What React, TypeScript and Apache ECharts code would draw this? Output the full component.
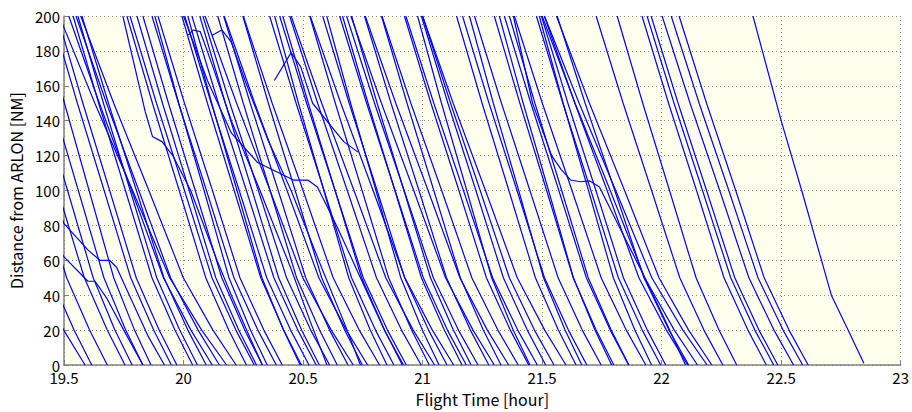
import React, { useEffect, useRef } from "react";
import * as echarts from "echarts";

// distance levels (NM) at which each regular track's time (hour) is read
const distanceLevels = [200, 150, 100, 50, 20, 0];

// tracks already inside 200 NM at 19.5 h
const leftEdgeFlights: number[][] = [
  [19.48, 19.629, 19.787, 19.942, 20.076, 20.18],
  [19.472, 19.579, 19.691, 19.802, 19.898, 19.972],
  [19.449, 19.556, 19.668, 19.779, 19.875, 19.949],
  [19.404, 19.502, 19.605, 19.708, 19.795, 19.864],
  [19.35, 19.452, 19.56, 19.667, 19.758, 19.83],
  [19.305, 19.407, 19.515, 19.622, 19.713, 19.785],
  [19.255, 19.362, 19.474, 19.585, 19.681, 19.755],
  [19.181, 19.288, 19.4, 19.511, 19.607, 19.681],
  [19.116, 19.223, 19.335, 19.446, 19.542, 19.616],
  [18.988, 19.116, 19.251, 19.384, 19.499, 19.588],
];

const earlyFlights: number[][] = [
  [19.52, 19.648, 19.783, 19.916, 20.031, 20.12],
  [19.538, 19.645, 19.757, 19.868, 19.964, 20.038],
  [19.55, 19.678, 19.813, 19.946, 20.061, 20.15],
  [19.558, 19.665, 19.777, 19.888, 19.984, 20.058],
  [19.57, 19.708, 19.855, 19.999, 20.123, 20.22],
  [19.575, 19.686, 19.803, 19.918, 20.018, 20.095],
  [19.763, 19.87, 19.982, 20.093, 20.189, 20.263],
  [19.776, 19.887, 20.004, 20.119, 20.219, 20.296],
  [19.805, 19.912, 20.024, 20.135, 20.231, 20.305],
  [19.83, 19.937, 20.049, 20.16, 20.256, 20.33],
  [19.868, 19.979, 20.096, 20.211, 20.311, 20.388],
  [19.88, 19.98, 20.086, 20.19, 20.28, 20.35],
  [19.893, 20.004, 20.121, 20.236, 20.336, 20.413],
  [19.993, 20.1, 20.212, 20.323, 20.419, 20.493],
  [20.005, 20.116, 20.233, 20.348, 20.448, 20.525],
  [20.018, 20.118, 20.224, 20.328, 20.418, 20.488],
  [20.035, 20.146, 20.263, 20.378, 20.478, 20.555],
  [20.068, 20.175, 20.287, 20.398, 20.494, 20.568],
  [20.081, 20.194, 20.313, 20.431, 20.532, 20.611],
  [20.09, 20.222, 20.362, 20.499, 20.618, 20.71],
  [20.143, 20.25, 20.362, 20.473, 20.569, 20.643],
  [20.168, 20.279, 20.396, 20.511, 20.611, 20.688],
  [20.17, 20.298, 20.433, 20.566, 20.681, 20.77],
  [20.248, 20.355, 20.467, 20.578, 20.674, 20.748],
  [20.25, 20.371, 20.5, 20.626, 20.735, 20.82],
];

const midFlights: number[][] = [
  [20.36, 20.471, 20.588, 20.703, 20.803, 20.88],
  [20.381, 20.481, 20.587, 20.691, 20.781, 20.851],
  [20.402, 20.515, 20.634, 20.752, 20.853, 20.932],
  [20.415, 20.522, 20.634, 20.745, 20.841, 20.915],
  [20.444, 20.561, 20.685, 20.807, 20.912, 20.994],
  [20.45, 20.578, 20.713, 20.846, 20.961, 21.05],
  [20.528, 20.635, 20.747, 20.858, 20.954, 21.028],
  [20.53, 20.658, 20.793, 20.926, 21.041, 21.13],
  [20.582, 20.693, 20.81, 20.925, 21.025, 21.102],
  [20.599, 20.699, 20.805, 20.909, 20.999, 21.069],
  [20.653, 20.766, 20.885, 21.003, 21.104, 21.183],
  [20.665, 20.772, 20.884, 20.995, 21.091, 21.165],
  [20.682, 20.799, 20.923, 21.045, 21.15, 21.232],
  [20.7, 20.828, 20.963, 21.096, 21.211, 21.3],
  [20.703, 20.81, 20.922, 21.033, 21.129, 21.203],
  [20.757, 20.868, 20.985, 21.1, 21.2, 21.277],
  [20.76, 20.888, 21.023, 21.156, 21.271, 21.36],
  [20.828, 20.935, 21.047, 21.158, 21.254, 21.328],
  [20.83, 20.951, 21.08, 21.206, 21.315, 21.4],
  [20.924, 21.035, 21.152, 21.267, 21.367, 21.444],
  [20.93, 21.047, 21.171, 21.293, 21.398, 21.48],
  [20.979, 21.079, 21.185, 21.289, 21.379, 21.449],
  [20.995, 21.106, 21.223, 21.338, 21.438, 21.515],
  [21.0, 21.117, 21.241, 21.363, 21.468, 21.55],
  [21.0, 21.128, 21.263, 21.396, 21.511, 21.6],
];

const lateFlights: number[][] = [
  [21.142, 21.249, 21.361, 21.472, 21.568, 21.642],
  [21.167, 21.278, 21.395, 21.51, 21.61, 21.687],
  [21.196, 21.296, 21.402, 21.506, 21.596, 21.666],
  [21.217, 21.33, 21.449, 21.567, 21.668, 21.747],
  [21.3, 21.407, 21.519, 21.63, 21.726, 21.8],
  [21.321, 21.421, 21.527, 21.631, 21.721, 21.791],
  [21.342, 21.453, 21.57, 21.685, 21.785, 21.862],
  [21.363, 21.47, 21.582, 21.693, 21.789, 21.863],
  [21.384, 21.501, 21.625, 21.747, 21.852, 21.934],
  [21.476, 21.587, 21.704, 21.819, 21.919, 21.996],
  [21.488, 21.588, 21.694, 21.798, 21.888, 21.958],
  [21.497, 21.608, 21.725, 21.84, 21.94, 22.017],
  [21.509, 21.637, 21.772, 21.905, 22.02, 22.109],
  [21.5, 21.638, 21.785, 21.929, 22.053, 22.15],
  [21.51, 21.655, 21.808, 21.959, 22.089, 22.19],
  [21.56, 21.698, 21.845, 21.989, 22.113, 22.21],
  [21.563, 21.68, 21.804, 21.926, 22.031, 22.113],
  [21.726, 21.839, 21.958, 22.076, 22.177, 22.256],
  [21.814, 21.921, 22.033, 22.144, 22.24, 22.314],
  [21.918, 22.029, 22.146, 22.261, 22.361, 22.438],
  [21.939, 22.052, 22.171, 22.289, 22.39, 22.469],
  [21.956, 22.069, 22.188, 22.306, 22.407, 22.486],
  [22.002, 22.119, 22.243, 22.365, 22.47, 22.552],
  [22.04, 22.157, 22.281, 22.403, 22.508, 22.59],
  [22.073, 22.188, 22.31, 22.429, 22.533, 22.613],
];

// irregular tracks: [time (hour), distance (NM)]
const irregularTracks: number[][][] = [
  [[19.4, 120], [19.5, 81], [19.6, 66], [19.65, 60], [19.69, 60], [19.72, 56], [19.78, 38], [19.85, 17], [19.92, 0]],
  [[19.45, 72], [19.5, 62], [19.6, 48], [19.63, 48], [19.68, 38], [19.75, 20], [19.83, 0]],
  [[19.746, 200], [19.84, 145], [19.87, 131], [19.91, 128], [19.955, 120], [20.03, 100], [20.14, 60], [20.2, 40], [20.28, 15], [20.33, 0]],
  [[20.02, 189], [20.04, 192], [20.07, 191], [20.12, 172], [20.2, 140], [20.32, 100], [20.45, 55], [20.53, 25], [20.6, 0]],
  [[20.12, 189], [20.16, 192], [20.2, 185], [20.26, 162], [20.35, 130], [20.45, 100], [20.58, 55], [20.67, 25], [20.74, 0]],
  [[20.38, 163], [20.45, 179], [20.49, 171], [20.54, 150], [20.67, 128], [20.73, 122]],
  [[20.0, 200], [20.1, 163], [20.2, 133], [20.31, 116], [20.46, 106], [20.52, 106], [20.56, 102], [20.64, 80], [20.74, 50], [20.84, 20], [20.92, 0]],
  [[21.38, 200], [21.46, 150], [21.54, 120], [21.58, 112], [21.62, 106], [21.66, 105], [21.7, 105.5], [21.74, 102], [21.82, 80], [21.93, 50], [22.02, 24], [22.1, 0]],
  [[22.382, 200], [22.5, 140], [22.586, 100], [22.71, 40], [22.78, 20], [22.846, 1]],
];

const xTicks = { min: 19.5, max: 23, interval: 0.5 };
const yTicks = { min: 0, max: 200, interval: 20 };

export default function App() {
  const ref = useRef<HTMLDivElement>(null);
  useEffect(() => {
    if (!ref.current) return;
    const chart = echarts.init(ref.current, undefined, { renderer: "svg" });
    const regular = [...leftEdgeFlights, ...earlyFlights, ...midFlights, ...lateFlights].map((times) =>
      times.map((t, i) => [t, distanceLevels[i]])
    );
    const tracks = [...regular, ...irregularTracks];
    const font = "'Noto Sans CJK JP', 'Noto Sans', sans-serif";
    chart.setOption({
      animation: false,
      backgroundColor: "#ffffff",
      grid: {
        left: 64,
        right: 10,
        top: 16,
        bottom: 45,
        show: true,
        backgroundColor: "#ffffee",
        borderWidth: 0,
      },
      xAxis: {
        type: "value",
        min: xTicks.min,
        max: xTicks.max,
        interval: xTicks.interval,
        name: "Flight Time [hour]",
        nameLocation: "middle",
        nameGap: 26,
        nameTextStyle: { color: "#000", fontSize: 16, fontFamily: font },
        axisLine: { show: true, lineStyle: { color: "#808080", width: 1.5 } },
        axisTick: { show: true, inside: true, length: 5, lineStyle: { color: "#808080" } },
        axisLabel: { color: "#000", fontSize: 15, fontFamily: font, margin: 5 },
        splitLine: { show: true, lineStyle: { color: "#8a8a8a", type: [1, 3], width: 1 } },
      },
      yAxis: {
        type: "value",
        min: yTicks.min,
        max: yTicks.max,
        interval: yTicks.interval,
        name: "Distance from ARLON [NM]",
        nameLocation: "middle",
        nameGap: 37,
        nameTextStyle: { color: "#000", fontSize: 16, fontFamily: font },
        axisLine: { show: true, lineStyle: { color: "#808080", width: 1.5 } },
        axisTick: { show: true, inside: true, length: 5, lineStyle: { color: "#808080" } },
        axisLabel: { color: "#000", fontSize: 15, fontFamily: font, margin: 4 },
        splitLine: { show: true, lineStyle: { color: "#8a8a8a", type: [1, 3], width: 1 } },
      },
      series: tracks.map((data) => ({
        type: "line",
        data,
        showSymbol: false,
        smooth: false,
        clip: true,
        lineStyle: { color: "#0000ff", width: 1.2 },
        silent: true,
      })),
    });
    return () => chart.dispose();
  }, []);
  return (
    <div
      ref={ref}
      style={{ position: "fixed", left: 0, top: 0, width: 912, height: 412 }}
    />
  );
}
